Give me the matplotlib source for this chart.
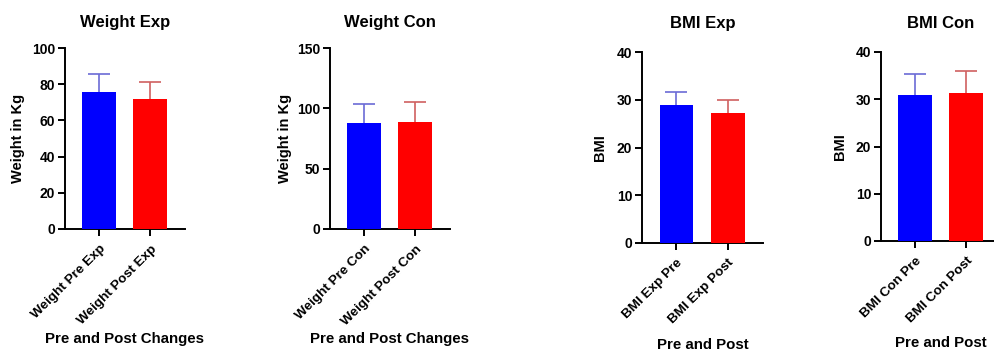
import matplotlib.pyplot as plt

plt.rcParams["font.family"] = ["Liberation Sans", "DejaVu Sans"]
plt.rcParams["font.weight"] = "bold"

# ------------------------------------------------
# data
# ------------------------------------------------

titles = ["Weight Exp", "Weight Con", "BMI Exp", "BMI Con"]
ylabels = ["Weight in Kg", "Weight in Kg", "BMI", "BMI"]
xlabels = ["Pre and Post Changes", "Pre and Post Changes", "Pre and Post", "Pre and Post"]

tick_labels = [
    ["Weight Pre Exp", "Weight Post Exp"],
    ["Weight Pre Con", "Weight Post Con"],
    ["BMI Exp Pre", "BMI Exp Post"],
    ["BMI Con Pre", "BMI Con Post"],
]

means = [
    [75.7, 71.8],
    [88.1, 88.7],
    [28.9, 27.3],
    [30.9, 31.3],
]

sds = [
    [9.8, 9.2],
    [15.7, 16.3],
    [2.8, 2.6],
    [4.5, 4.6],
]

y_max = [100, 150, 40, 40]
y_step = [20, 50, 10, 10]

bar_colors = ["#0000ff", "#ff0000"]
err_colors = ["#6b6bd6", "#d06060"]

# axes boxes in pixels: left, right, top, bottom
W, H = 995, 352
boxes = [
    (65, 185, 48, 229),
    (330, 450, 48, 229),
    (642, 763, 52, 243),
    (881, 1001, 52, 241),
]
xlabel_y = [-0.57, -0.57, -0.495, -0.505]
ylabel_x = [-0.33, -0.32, -0.29, -0.28]
title_pad = [15, 15, 17, 17]

fig = plt.figure(figsize=(W / 100, H / 100), dpi=100)

for i in range(4):
    l, r, t, b = boxes[i]
    ax = fig.add_axes([l / W, (H - b) / H, (r - l) / W, (b - t) / H])

    x = [0, 1]
    ax.bar(x, means[i], width=0.66, color=bar_colors, zorder=3)
    for j in range(2):
        eb = ax.errorbar(x[j], means[i][j], yerr=[[0], [sds[i][j]]], fmt="none",
                         ecolor=err_colors[j], elinewidth=1.2, capsize=8,
                         capthick=1.2, zorder=2)
        # only the upper cap is drawn
        eb[1][0].set_visible(False)

    ax.set_xlim(-0.67, 1.68)
    ax.set_ylim(0, y_max[i])
    ax.set_yticks(range(0, y_max[i] + 1, y_step[i]))
    ax.set_xticks(x)
    ax.set_xticklabels(tick_labels[i], rotation=45, ha="right", va="top",
                       rotation_mode="anchor", fontsize=9.7, fontweight="bold")

    for lab in ax.get_yticklabels():
        lab.set_fontsize(10)
        lab.set_fontweight("bold")

    ax.spines["top"].set_visible(False)
    ax.spines["right"].set_visible(False)
    ax.spines["left"].set_linewidth(1.4)
    ax.spines["bottom"].set_linewidth(1.4)
    ax.tick_params(axis="both", direction="out", length=5, width=1.4, pad=2)
    ax.tick_params(axis="x", pad=5)

    ax.set_title(titles[i], fontsize=12, fontweight="bold", pad=title_pad[i])
    ax.set_ylabel(ylabels[i], fontsize=10.5, fontweight="bold")
    ax.yaxis.set_label_coords(ylabel_x[i], 0.5)
    ax.set_xlabel(xlabels[i], fontsize=10.8, fontweight="bold")
    ax.xaxis.set_label_coords(0.5, xlabel_y[i])

fig.savefig("out.png", dpi=100)
